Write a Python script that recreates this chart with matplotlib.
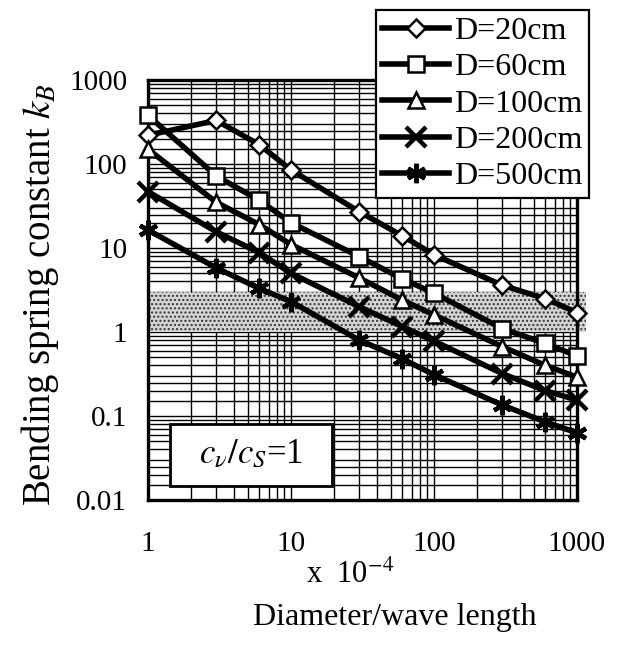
import numpy as np
import matplotlib
matplotlib.use("Agg")
import matplotlib.pyplot as plt
from matplotlib.patches import Rectangle
from matplotlib.ticker import LogLocator, NullFormatter

plt.rcParams["font.family"] = ["Liberation Serif", "DejaVu Serif"]
plt.rcParams["mathtext.fontset"] = "stix"
plt.rcParams["hatch.linewidth"] = 1.0

# diameter / wave length (x 10^-4)
ratio = [1, 3, 6, 10, 30, 60, 100, 300, 600, 1000]

# bending spring constant k_B
kb_20 = [220, 330, 170, 85, 27, 14, 8.3, 3.6, 2.5, 1.7]
kb_60 = [380, 72, 37, 20, 7.9, 4.3, 2.9, 1.1, 0.73, 0.52]
kb_100 = [150, 35, 19, 11, 4.4, 2.4, 1.6, 0.67, 0.40, 0.29]
kb_200 = [47, 15.6, 8.8, 5.0, 2.0, 1.16, 0.78, 0.32, 0.20, 0.155]
kb_500 = [16.4, 5.8, 3.3, 2.3, 0.80, 0.48, 0.31, 0.135, 0.085, 0.063]

labels = ["D=20cm", "D=60cm", "D=100cm", "D=200cm", "D=500cm"]
markers = ["D", "s", "^", "x", (6, 2, 0)]

# shaded range of k_B
band = (1, 3)

xticks = [1, 10, 100, 1000]
yticks = [0.01, 0.1, 1, 10, 100, 1000]

W, H = 624, 649
fig = plt.figure(figsize=(W / 100, H / 100), dpi=100)
ax = fig.add_axes([148 / W, 149 / H, 429 / W, 420 / H])

ax.set_xscale("log")
ax.set_yscale("log")
ax.set_xlim(1, 1000)
ax.set_ylim(0.01, 1000)

# dense grid like the original graph paper
ax.xaxis.set_minor_locator(LogLocator(base=10, subs=np.arange(2, 10)))
ax.yaxis.set_minor_locator(LogLocator(base=10, subs=[1.5, 2, 2.5, 3, 4, 5, 6, 7, 8, 9]))
ax.xaxis.set_minor_formatter(NullFormatter())
ax.yaxis.set_minor_formatter(NullFormatter())
ax.set_axisbelow(True)
ax.grid(which="both", color="black", linewidth=1.0)

ax.axhspan(band[0], band[1], xmin=0, xmax=1.02, facecolor="#d4d4d4",
           edgecolor="#333333", hatch="....", linewidth=0, zorder=1,
           clip_on=False)

series = [kb_20, kb_60, kb_100, kb_200, kb_500]
handles = []
for vals, lab, m in zip(series, labels, markers):
    if m in ("D", "s", "^"):
        kw = dict(markerfacecolor="white", markeredgecolor="black",
                  markeredgewidth=1.8, markersize=11 if m != "D" else 9)
    else:
        kw = dict(markeredgecolor="black", markeredgewidth=3.2, markersize=14)
    h, = ax.plot(ratio, vals, color="black", linewidth=4.0, marker=m,
                 label=lab, zorder=3, clip_on=False, **kw)
    handles.append(h)

ax.set_xticks(xticks)
ax.set_xticklabels([str(v) for v in xticks])
ax.set_yticks(yticks)
ax.set_yticklabels(["0.01", "0.1", "1", "10", "100", "1000"])
ax.tick_params(which="both", length=0)
ax.tick_params(axis="y", labelsize=21, pad=15)
ax.tick_params(axis="x", labelsize=21, pad=22)

for s in ax.spines.values():
    s.set_linewidth(2.4)

leg = ax.legend(handles=handles, loc="upper left",
                bbox_to_anchor=(376 / W, 1 - 10 / H),
                bbox_transform=fig.transFigure, fontsize=23,
                frameon=True, fancybox=False, framealpha=1,
                edgecolor="black", borderaxespad=0, borderpad=0.2,
                labelspacing=0.22, handlelength=2.1, handletextpad=0.15)
leg.get_frame().set_linewidth(1.6)
leg.set_zorder(5)

# parameter box
fig.patches.append(Rectangle((170 / W, 1 - 486 / H), 162 / W, 62 / H,
                             transform=fig.transFigure, facecolor="white",
                             edgecolor="black", linewidth=2.0, zorder=6))
fig.text(251 / W, 1 - 455 / H, r"$c_{\nu}/c_{S}$=1", fontsize=25,
         ha="center", va="center", zorder=7)

fig.text(350 / W, 1 - 574 / H, r"x  10$^{-4}$", fontsize=22,
         ha="center", va="center")
fig.text(395 / W, 1 - 618 / H, "Diameter/wave length", fontsize=23,
         ha="center", va="center")
fig.text(40 / W, 1 - 295 / H, r"Bending spring constant $k_B$", fontsize=28,
         rotation=90, ha="center", va="center")

fig.savefig("out.png", dpi=100)
